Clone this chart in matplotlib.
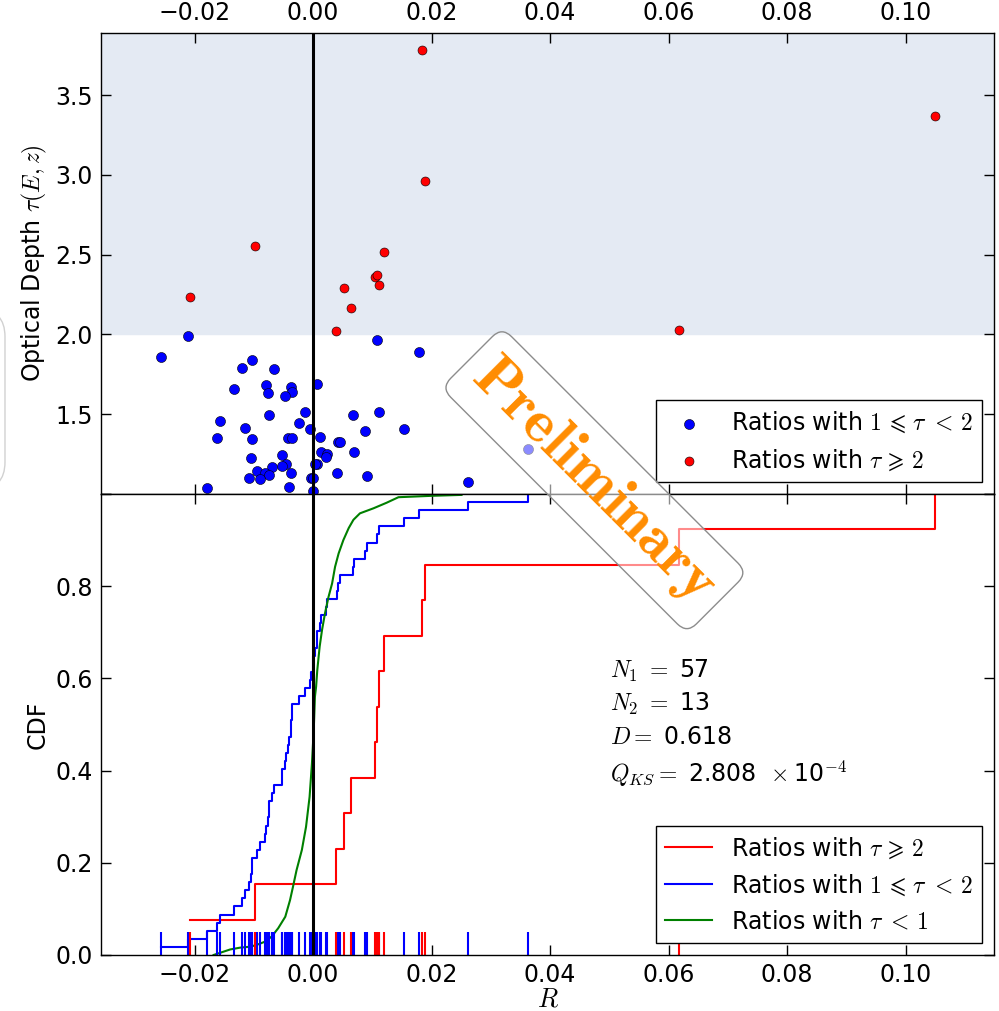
import matplotlib.pyplot as plt
import numpy as np
from matplotlib.patches import FancyBboxPatch

plt.rcParams['mathtext.fontset'] = 'cm'
plt.rcParams['font.family'] = ['DejaVu Sans']
plt.rcParams['font.size'] = 17

# tau in [1, 2)
blue_r = [-0.0212, -0.0257, -0.0103, -0.0120, -0.0066, -0.0134, -0.0080, -0.0077,
          -0.0038, -0.0035, -0.0048, 0.0007, -0.0014, -0.0075, -0.0158, -0.0024,
          -0.0115, -0.0006, -0.0162, -0.0103, -0.0042, -0.0036, 0.0012, 0.0042,
          0.0046, 0.0068, 0.0111, 0.0088, 0.0154, 0.0107, 0.0178, -0.0105,
          -0.0053, -0.0046, -0.0053, -0.0069, -0.0095, -0.0082, -0.0074, -0.0090,
          -0.0109, -0.0038, -0.0003, 0.0006, 0.0014, 0.0023, 0.0022, 0.0069,
          0.0041, 0.0091, -0.0041, -0.0179, -0.0001, 0.0262, 0.0362, 0.0000, 0.0003]
blue_tau = [1.989, 1.856, 1.837, 1.789, 1.783, 1.658, 1.683, 1.635,
            1.670, 1.639, 1.616, 1.689, 1.516, 1.495, 1.460, 1.447,
            1.411, 1.405, 1.351, 1.344, 1.351, 1.351, 1.359, 1.326,
            1.326, 1.495, 1.514, 1.393, 1.405, 1.964, 1.891, 1.225,
            1.242, 1.190, 1.178, 1.167, 1.142, 1.130, 1.117, 1.092,
            1.100, 1.130, 1.098, 1.188, 1.263, 1.250, 1.232, 1.261,
            1.134, 1.111, 1.046, 1.038, 1.021, 1.075, 1.280, 1.098, 1.188]

# tau >= 2
red_r = [0.0183, 0.0189, -0.0098, -0.0208, 0.0120, 0.0104, 0.0108, 0.0111,
         0.0052, 0.0064, 0.0038, 0.1049, 0.0617]
red_tau = [3.785, 2.962, 2.553, 2.236, 2.518, 2.361, 2.374, 2.313,
           2.290, 2.163, 2.019, 3.369, 2.031]

# tau < 1 (CDF)
green_r = [-0.0168, -0.0140, -0.0123, -0.0106, -0.0095, -0.0081, -0.0070, -0.0059,
           -0.0047, -0.0039, -0.0034, -0.0028, -0.0019, -0.0012, -0.0006, -0.0002,
           0.0001, 0.0003, 0.0005, 0.0007, 0.0011, 0.0015, 0.0020, 0.0026,
           0.0032, 0.0037, 0.0043, 0.0051, 0.0060, 0.0068, 0.0079, 0.0102,
           0.0124, 0.0144, 0.0200, 0.0251, 0.0251]
green_cdf = [0.000, 0.012, 0.016, 0.018, 0.022, 0.029, 0.040, 0.058,
             0.083, 0.119, 0.148, 0.184, 0.228, 0.278, 0.343, 0.416,
             0.488, 0.560, 0.582, 0.618, 0.669, 0.705, 0.741, 0.777,
             0.806, 0.842, 0.871, 0.900, 0.926, 0.944, 0.958, 0.969,
             0.981, 0.993, 0.996, 0.998, 1.000]

stats = [r'$N_1\ =$ 57', r'$N_2\ =$ 13', r'$D=$ 0.618',
         r'$Q_{KS}=$ 2.808 $\,\times$10$^{-4}$']

lab_mid = r'Ratios with $1\,\leqslant\,\tau\ <\,2$'
lab_hi = r'Ratios with $\tau\,\geqslant\,2$'
lab_lo = r'Ratios with $\tau\ <\,1$'

xticks = [-0.02, 0.0, 0.02, 0.04, 0.06, 0.08, 0.10]
xlim = (-0.0358, 0.1149)

fig = plt.figure(figsize=(9.99, 10.11), dpi=100)
ax1 = fig.add_axes([0.1011, 0.5114, 0.8939, 0.456])
ax2 = fig.add_axes([0.1011, 0.0554, 0.8939, 0.456])

for ax in (ax1, ax2):
    ax.tick_params(direction='in', length=7, width=1, top=True, right=True, pad=6)
    for s in ax.spines.values():
        s.set_linewidth(1.0)
    ax.set_xlim(xlim)
    ax.set_xticks(xticks)
    ax.axvline(0, color='k', lw=2.2, zorder=4)

# top panel
ax1.axhspan(2.0, 4.0, color='#e4eaf3', zorder=0)
ax1.scatter(blue_r, blue_tau, s=52, c='#0000ff', edgecolors='k', linewidths=0.4,
            zorder=3, label=lab_mid)
ax1.scatter(red_r, red_tau, s=42, c='#ff0000', edgecolors='k', linewidths=0.4,
            zorder=3, label=lab_hi)
ax1.set_ylim(1.0, 3.89)
ax1.set_yticks([1.0, 1.5, 2.0, 2.5, 3.0, 3.5])
ax1.set_yticklabels(['', '1.5', '2.0', '2.5', '3.0', '3.5'])
ax1.tick_params(labeltop=True, labelbottom=False)
ax1.set_ylabel(r'Optical Depth $\tau(E,z)$')
ax1.legend(loc='lower right', fancybox=False, edgecolor='k', framealpha=1,
           scatterpoints=1)

# bottom panel
n_red = len(red_r)
n_blue = len(blue_r)
ax2.step(np.sort(red_r), np.arange(1, n_red + 1) / n_red, where='post',
         color='#ff0000', lw=1.5, label=lab_hi)
ax2.step(np.sort(blue_r), np.arange(1, n_blue + 1) / n_blue, where='post',
         color='#0000ff', lw=1.5, label=lab_mid)
ax2.plot(green_r, green_cdf, color='#008000', lw=1.5, label=lab_lo)

ax2.vlines(blue_r, 0, 0.05, colors='#0000ff', lw=1.5)
ax2.vlines([r for r in red_r if r < 0.1], 0, 0.05, colors='#ff0000', lw=1.5)

ax2.set_ylim(0, 1.0)
ax2.set_yticks([0.0, 0.2, 0.4, 0.6, 0.8, 1.0])
ax2.set_yticklabels(['0.0', '0.2', '0.4', '0.6', '0.8', ''])
ax2.set_xlabel(r'$R$', fontsize=19)
ax2.xaxis.set_label_coords(0.5, -0.069)
ax2.set_ylabel('CDF')
ax2.legend(loc='lower right', fancybox=False, edgecolor='k', framealpha=1)

for txt, yb in zip(stats, [0.601, 0.529, 0.457, 0.376]):
    ax2.text(0.0501, yb, txt, va='baseline', ha='left')

# watermark
fig.text(0.595, 0.525, r'$\mathbf{Preliminary}$', rotation=-45, ha='center',
         va='center', rotation_mode='anchor', color='#ff8c00', fontsize=44,
         zorder=10,
         bbox=dict(boxstyle='round,pad=0.22', fc=(1, 1, 1, 0.55), ec='0.55', lw=1))
fig.add_artist(FancyBboxPatch((-0.1, 0.516), 0.105, 0.178,
                              boxstyle='round,pad=0,rounding_size=0.027',
                              transform=fig.transFigure, fc='none', ec='0.82', lw=1))

fig.savefig('out.png', dpi=100)
